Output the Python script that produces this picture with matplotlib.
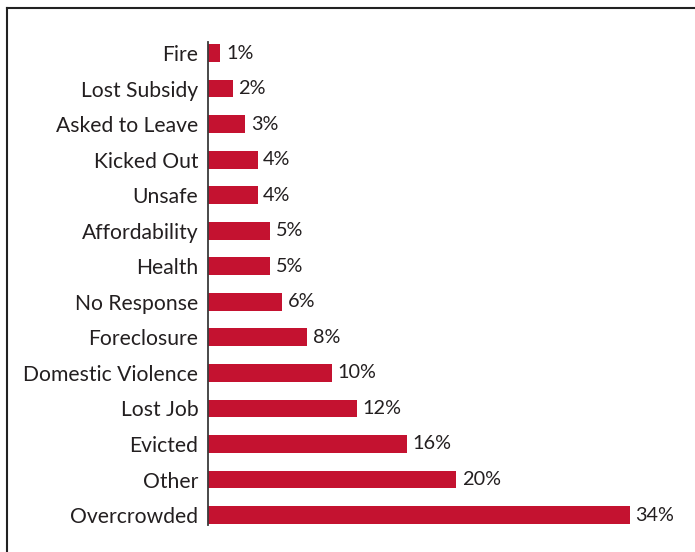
import matplotlib.pyplot as plt
from matplotlib.lines import Line2D

plt.rcParams['font.family'] = ['Lato', 'DejaVu Sans']

reasons = [
    "Fire", "Lost Subsidy", "Asked to Leave", "Kicked Out", "Unsafe",
    "Affordability", "Health", "No Response", "Foreclosure",
    "Domestic Violence", "Lost Job", "Evicted", "Other", "Overcrowded",
]
shares = [1, 2, 3, 4, 4, 5, 5, 6, 8, 10, 12, 16, 20, 34]

BAR_COLOR = "#C41230"
TEXT_COLOR = "#231F20"

fig = plt.figure(figsize=(6.95, 5.52), dpi=100)
ax = fig.add_axes([208 / 695, 1 - 525 / 552, 482 / 695, 483 / 552])

ypos = list(range(len(reasons)))
ax.barh(ypos, shares, height=0.5, color=BAR_COLOR)

for y, v in zip(ypos, shares):
    ax.text(v + 0.45, y, f"{v}%", va="center", ha="left",
            fontsize=14.3, color=TEXT_COLOR)

ax.set_yticks(ypos)
ax.set_yticklabels(reasons, fontsize=15.2, color=TEXT_COLOR)
ax.tick_params(axis="y", length=0, pad=7)
ax.set_xticks([])
ax.set_xlim(0, 34 * 482 / 422)
ax.set_ylim(13.28, -0.31)

for side in ["top", "right", "bottom"]:
    ax.spines[side].set_visible(False)
ax.spines["left"].set_color("#3a3a3a")
ax.spines["left"].set_linewidth(1.3)

# frame round the figure, only its top and left edges fall inside the canvas
fig.add_artist(Line2D([7 / 695, 7 / 695], [0, 1 - 8 / 552], transform=fig.transFigure,
                      color="#222222", linewidth=1.5))
fig.add_artist(Line2D([7 / 695, 1], [1 - 8 / 552, 1 - 8 / 552], transform=fig.transFigure,
                      color="#222222", linewidth=1.5))

fig.savefig("out.png", dpi=100)
